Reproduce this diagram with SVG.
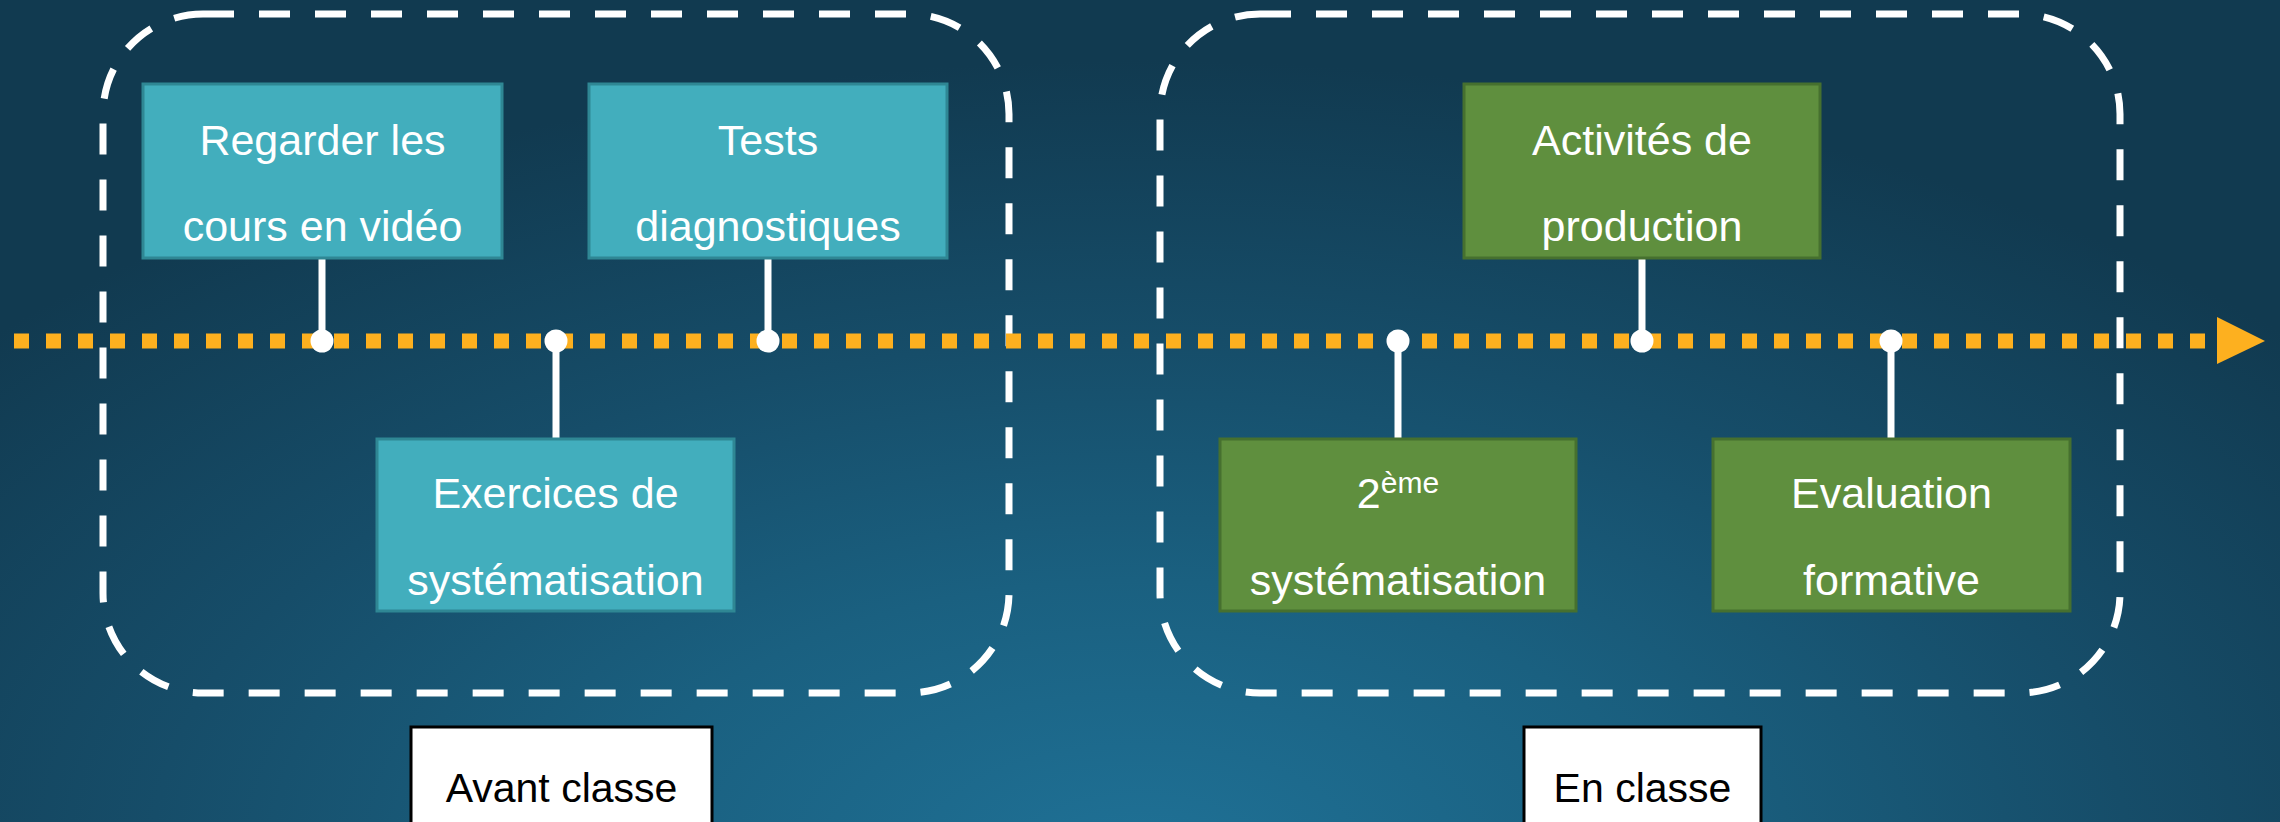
<svg xmlns="http://www.w3.org/2000/svg" width="2280" height="822" viewBox="0 0 2280 822">
<defs>
<radialGradient id="bg" gradientUnits="userSpaceOnUse" cx="1140" cy="860" r="800" gradientTransform="translate(1140 860) scale(1.9 1) translate(-1140 -860)">
<stop offset="0" stop-color="#1F7196"/>
<stop offset="0.35" stop-color="#1A6080"/>
<stop offset="0.65" stop-color="#164D69"/>
<stop offset="1" stop-color="#113A50"/>
</radialGradient>
<style>
.grp{fill:none;stroke:#FFFFFF;stroke-width:7;stroke-dasharray:31 25}
.teal{fill:#42AEBD;stroke:#2F8794;stroke-width:3}
.green{fill:#5F8F3E;stroke:#46702F;stroke-width:3}
.t{font-family:"Liberation Sans",Arial,sans-serif;font-size:43px;fill:#FFFFFF;text-anchor:middle}
.lab{fill:#FFFFFF;stroke:#000000;stroke-width:3}
.lt{font-family:"Liberation Sans",Arial,sans-serif;font-size:41px;fill:#000000;text-anchor:middle}
.conn{stroke:#FFFFFF;stroke-width:7}
.dot{fill:#FFFFFF}
</style>
</defs>
<rect width="2280" height="822" fill="url(#bg)"/>
<g id="groups">
<rect class="grp" x="103" y="14" width="906" height="679" rx="100" ry="100"/>
<rect class="grp" x="1160" y="14" width="960" height="679" rx="100" ry="100"/>
</g>
<g id="timeline">
<line x1="14" y1="341" x2="2210" y2="341" stroke="#FDB01F" stroke-width="15" stroke-dasharray="15 17"/>
<polygon points="2217,317 2265,341 2217,364" fill="#FDB01F"/>
</g>
<g id="connectors">
<line class="conn" x1="322" y1="258" x2="322" y2="341"/><circle class="dot" cx="322" cy="341" r="11.5"/>
<line class="conn" x1="556" y1="341" x2="556" y2="439"/><circle class="dot" cx="556" cy="341" r="11.5"/>
<line class="conn" x1="768" y1="258" x2="768" y2="341"/><circle class="dot" cx="768" cy="341" r="11.5"/>
<line class="conn" x1="1398" y1="341" x2="1398" y2="439"/><circle class="dot" cx="1398" cy="341" r="11.5"/>
<line class="conn" x1="1642" y1="258" x2="1642" y2="341"/><circle class="dot" cx="1642" cy="341" r="11.5"/>
<line class="conn" x1="1891" y1="341" x2="1891" y2="439"/><circle class="dot" cx="1891" cy="341" r="11.5"/>
</g>
<g id="n1"><rect class="teal" x="143" y="84" width="359" height="174"/>
<text class="t" x="322.5" y="155">Regarder les</text><text class="t" x="322.5" y="241">cours en vidéo</text></g>
<g id="n2"><rect class="teal" x="589" y="84" width="358" height="174"/>
<text class="t" x="768" y="155">Tests</text><text class="t" x="768" y="241">diagnostiques</text></g>
<g id="n3"><rect class="teal" x="377" y="439" width="357" height="172"/>
<text class="t" x="555.5" y="508">Exercices de</text><text class="t" x="555.5" y="595">systématisation</text></g>
<g id="n4"><rect class="green" x="1464" y="84" width="356" height="174"/>
<text class="t" x="1642" y="155">Activités de</text><text class="t" x="1642" y="241">production</text></g>
<g id="n5"><rect class="green" x="1220" y="439" width="356" height="172"/>
<text class="t" x="1398" y="508">2<tspan font-size="30" dy="-15">ème</tspan></text><text class="t" x="1398" y="595">systématisation</text></g>
<g id="n6"><rect class="green" x="1713" y="439" width="357" height="172"/>
<text class="t" x="1891.5" y="508">Evaluation</text><text class="t" x="1891.5" y="595">formative</text></g>
<g id="l1"><rect class="lab" x="411" y="727" width="301" height="110"/><text class="lt" x="561.5" y="802">Avant classe</text></g>
<g id="l2"><rect class="lab" x="1524" y="727" width="237" height="110"/><text class="lt" x="1642.5" y="802">En classe</text></g>
</svg>
